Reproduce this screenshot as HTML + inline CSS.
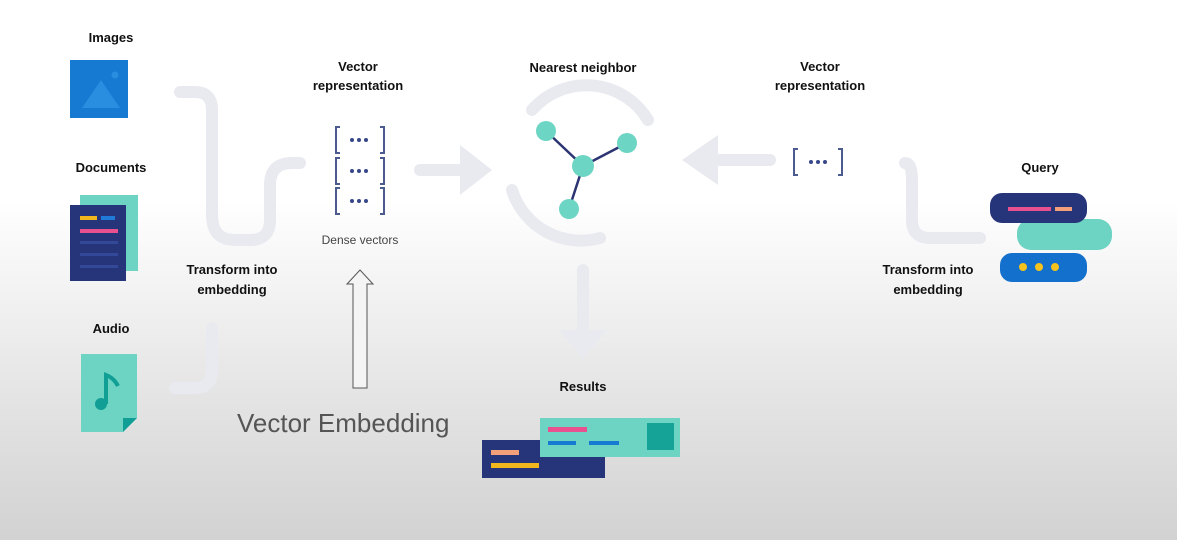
<!DOCTYPE html>
<html><head><style>
html,body{margin:0;padding:0;}
body{width:1177px;height:540px;overflow:hidden;background:linear-gradient(#ffffff 0px,#ffffff 200px,#e9e9e9 360px,#d2d2d2 540px);}
svg{display:block;}
text{font-family:"Liberation Sans",sans-serif;}
.b{font-weight:bold;font-size:13px;fill:#111;text-anchor:middle;}
</style></head><body>
<svg width="1177" height="540" viewBox="0 0 1177 540">
<g fill="none" stroke="#e9eaf0" stroke-width="12" stroke-linecap="round">
<path d="M180 92 H195 Q212 92 212 110 V215 Q212 240 235 240 H250 Q270 240 270 220 V185 Q270 163 292 163 H300"/>
<path d="M175 388 H195 Q212 388 212 370 V328"/>
<path d="M905 163 Q912 163 912 180 V220 Q912 238 930 238 H980"/>
<path d="M420 170 H465"/>
<path d="M770 160 H715"/>
<path d="M583 270 V335"/>
<path d="M532 110 A72 72 0 0 1 648 120"/>
<path d="M512 190 A72 72 0 0 0 600 238"/>
</g>
<g fill="#e9eaf0">
<polygon points="460,145 492,170 460,195"/>
<polygon points="718,135 682,160 718,185"/>
<polygon points="560,330 606,330 583,360"/>
</g>
<text class="b" x="111" y="42">Images</text>
<rect x="70" y="60" width="58" height="58" fill="#1679d2"/>
<polygon points="82,108 101,80 120,108" fill="#2a8ee0"/>
<circle cx="115" cy="75" r="3.5" fill="#2a8ee0"/>
<text class="b" x="111" y="172">Documents</text>
<rect x="80" y="195" width="58" height="76" fill="#6dd3c2"/>
<rect x="70" y="205" width="56" height="76" fill="#263479"/>
<rect x="80" y="216" width="17" height="4" fill="#f1b71c"/>
<rect x="101" y="216" width="14" height="4" fill="#1f7ad8"/>
<rect x="80" y="229" width="38" height="4" fill="#e8508f"/>
<rect x="80" y="241" width="38" height="3" fill="#34489a"/>
<rect x="80" y="253" width="38" height="3" fill="#34489a"/>
<rect x="80" y="265" width="38" height="3" fill="#34489a"/>
<text class="b" x="111" y="333">Audio</text>
<polygon points="81,354 137,354 137,418 123,432 81,432" fill="#6dd3c2"/>
<polygon points="123,432 137,418 123,418" fill="#119e94"/>
<circle cx="101" cy="404" r="6" fill="#119e94"/>
<path d="M106 404 V375 Q114 378 118 386" stroke="#119e94" stroke-width="4" fill="none"/>
<text class="b" x="232" y="274">Transform into</text>
<text class="b" x="232" y="294">embedding</text>
<text class="b" x="358" y="71">Vector</text>
<text class="b" x="358" y="90">representation</text>
<g stroke="#4b5a8f" stroke-width="2" fill="none">
<path d="M340 127 H336 V153 H340 M380 127 H384 V153 H380"/>
<path d="M340 158 H336 V184 H340 M380 158 H384 V184 H380"/>
<path d="M340 188 H336 V214 H340 M380 188 H384 V214 H380"/>
<path d="M798 149 H794 V175 H798 M838 149 H842 V175 H838"/>
</g>
<g fill="#38478a">
<circle cx="352" cy="140" r="2"/><circle cx="359" cy="140" r="2"/><circle cx="366" cy="140" r="2"/>
<circle cx="352" cy="171" r="2"/><circle cx="359" cy="171" r="2"/><circle cx="366" cy="171" r="2"/>
<circle cx="352" cy="201" r="2"/><circle cx="359" cy="201" r="2"/><circle cx="366" cy="201" r="2"/>
<circle cx="811" cy="162" r="2"/><circle cx="818" cy="162" r="2"/><circle cx="825" cy="162" r="2"/>
</g>
<text x="360" y="244" font-size="12" fill="#444" text-anchor="middle">Dense vectors</text>
<polygon points="353,388 367,388 367,284 373,284 360,270 347,284 353,284" fill="#f4f4f4" stroke="#555" stroke-width="1"/>
<text x="237" y="432" font-size="26" fill="#555">Vector Embedding</text>
<text class="b" x="583" y="72">Nearest neighbor</text>
<g stroke="#2c3473" stroke-width="2.5">
<line x1="546" y1="131" x2="583" y2="166"/><line x1="627" y1="143" x2="583" y2="166"/><line x1="569" y1="209" x2="583" y2="166"/>
</g>
<g fill="#6dd5c4">
<circle cx="546" cy="131" r="10"/><circle cx="627" cy="143" r="10"/><circle cx="583" cy="166" r="11"/><circle cx="569" cy="209" r="10"/>
</g>
<text class="b" x="820" y="71">Vector</text>
<text class="b" x="820" y="90">representation</text>
<text class="b" x="1040" y="172">Query</text>
<rect x="1017" y="219" width="95" height="31" rx="14" fill="#6dd3c2"/>
<rect x="990" y="193" width="97" height="30" rx="12" fill="#263479"/>
<rect x="1008" y="207" width="43" height="4" fill="#e8508f"/>
<rect x="1055" y="207" width="17" height="4" fill="#f3a07a"/>
<rect x="1000" y="253" width="87" height="29" rx="12" fill="#1370cc"/>
<circle cx="1023" cy="267" r="4" fill="#f6c21d"/><circle cx="1039" cy="267" r="4" fill="#f6c21d"/><circle cx="1055" cy="267" r="4" fill="#f6c21d"/>
<text class="b" x="928" y="274">Transform into</text>
<text class="b" x="928" y="294">embedding</text>
<text class="b" x="583" y="391">Results</text>
<rect x="482" y="440" width="123" height="38" fill="#263479"/>
<rect x="491" y="450" width="28" height="5" fill="#f3a07a"/>
<rect x="491" y="463" width="48" height="5" fill="#f1b71c"/>
<rect x="540" y="418" width="140" height="39" fill="#6dd3c2"/>
<rect x="548" y="427" width="39" height="5" fill="#e8508f"/>
<rect x="548" y="441" width="28" height="4" fill="#1679d2"/>
<rect x="589" y="441" width="30" height="4" fill="#1679d2"/>
<rect x="647" y="423" width="27" height="27" fill="#15a397"/>
</svg>
</body></html>
